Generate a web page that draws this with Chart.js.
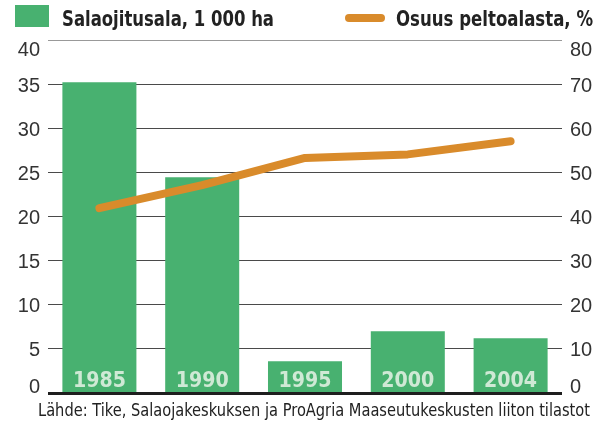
<!DOCTYPE html>
<html>
<head>
<meta charset="utf-8">
<script src="https://cdn.jsdelivr.net/npm/chart.js@4"></script>
<style>
  html, body { margin: 0; padding: 0; background: #fff; }
  #wrap { width: 596px; height: 421px; }
</style>
</head>
<body>
<div id="wrap"><canvas id="chart" width="596" height="421"></canvas></div>
<script>
const years = ['1985', '1990', '1995', '2000', '2004'];
const drainedArea = [35.2, 24.4, 3.5, 6.9, 6.1];     // 1 000 ha
const shareOfField = [41.8, 47, 53.2, 54, 57];        // %
const leftTicks = [0, 5, 10, 15, 20, 25, 30, 35, 40];
const rightTicks = [0, 10, 20, 30, 40, 50, 60, 70, 80];

const barLabel = 'Salaojitusala, 1 000 ha';
const lineLabel = 'Osuus peltoalasta, %';
const source = 'Lähde: Tike, Salaojakeskuksen ja ProAgria Maaseutukeskusten liiton tilastot';

const GREEN = '#48b170';
const ORANGE = '#d98b2b';

// label nudges: top label sits under the legend, zero label lifts off the base line
function nudge(i, n) {
    if (i === n - 1) return 10;
    if (i === 0) return -5;
    return 2;
}

const decor = {
    id: 'decor',
    beforeDatasetsDraw(chart) {
        const c = chart.ctx;
        const area = chart.chartArea;
        const y = chart.scales.y;
        const y2 = chart.scales.y2;
        c.save();
        // grid lines
        leftTicks.forEach(v => {
            if (v === 0) return;
            const py = Math.round(y.getPixelForValue(v)) + 0.5;
            c.strokeStyle = v === 40 ? '#999' : '#4a4a4a';
            c.lineWidth = 1;
            c.beginPath();
            c.moveTo(area.left, py);
            c.lineTo(area.right, py);
            c.stroke();
        });
        // tick labels
        c.fillStyle = '#333';
        c.font = '20px "Liberation Sans", "DejaVu Sans"';
        c.textBaseline = 'middle';
        c.textAlign = 'right';
        leftTicks.forEach((v, i) => {
            c.fillText(String(v), area.left - 8, y.getPixelForValue(v) + nudge(i, leftTicks.length));
        });
        c.textAlign = 'left';
        rightTicks.forEach((v, i) => {
            c.fillText(String(v), area.right + 8, y2.getPixelForValue(v) + nudge(i, rightTicks.length));
        });
        c.restore();
    },
    afterDatasetsDraw(chart) {
        const c = chart.ctx;
        const area = chart.chartArea;
        const y = chart.scales.y;
        const y0 = y.getPixelForValue(0);

        // thick base line
        c.save();
        c.fillStyle = '#1e1e1e';
        c.fillRect(area.left, y0, area.right - area.left, 3);

        // year labels inside bars
        const meta = chart.getDatasetMeta(1);
        c.font = 'bold 21px "DejaVu Sans"';
        c.fillStyle = '#cfe9d5';
        c.textAlign = 'center';
        c.textBaseline = 'alphabetic';
        meta.data.forEach((bar, i) => {
            c.fillText(years[i], bar.x, y0 - 5, 53);
        });
        c.restore();
    },
    afterDraw(chart) {
        const c = chart.ctx;
        c.save();
        // legend
        c.fillStyle = GREEN;
        c.fillRect(15, 5, 34, 22);
        c.strokeStyle = ORANGE;
        c.lineWidth = 8;
        c.lineCap = 'round';
        c.beginPath();
        c.moveTo(349, 18);
        c.lineTo(381, 18);
        c.stroke();

        c.fillStyle = '#222';
        c.textBaseline = 'alphabetic';
        c.textAlign = 'left';
        c.font = 'bold 22px "DejaVu Sans Condensed", "DejaVu Sans"';
        c.fillText(barLabel, 62, 26, 212);
        c.fillText(lineLabel, 396, 26, 197);

        // source
        c.font = '18px "DejaVu Sans Condensed", "DejaVu Sans"';
        c.fillText(source, 38, 416, 552);
        c.restore();
    }
};

new Chart(document.getElementById('chart').getContext('2d'), {
    type: 'bar',
    data: {
        labels: years,
        datasets: [
            {
                type: 'line',
                label: lineLabel,
                data: shareOfField,
                yAxisID: 'y2',
                borderColor: ORANGE,
                borderWidth: 8,
                borderCapStyle: 'round',
                borderJoinStyle: 'round',
                pointRadius: 0,
                tension: 0,
                order: 0
            },
            {
                label: barLabel,
                data: drainedArea,
                yAxisID: 'y',
                backgroundColor: GREEN,
                borderWidth: 0,
                categoryPercentage: 1,
                barPercentage: 0.72,
                order: 1
            }
        ]
    },
    options: {
        responsive: false,
        animation: false,
        layout: { padding: { top: 40, bottom: 29, left: 48, right: 34 } },
        plugins: {
            legend: { display: false },
            tooltip: { enabled: false }
        },
        scales: {
            x: { display: false, offset: true },
            y: { display: false, position: 'left', min: 0, max: 40 },
            y2: { display: false, position: 'right', min: 0, max: 80 }
        }
    },
    plugins: [decor]
});
</script>
</body>
</html>
